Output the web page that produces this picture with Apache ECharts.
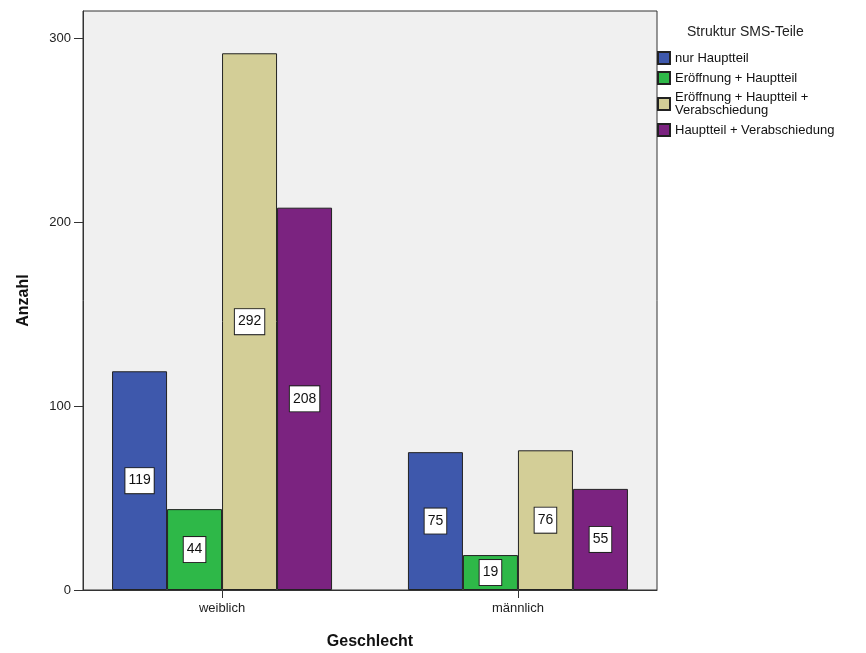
<!DOCTYPE html>
<html><head><meta charset="utf-8">
<script src="https://cdn.jsdelivr.net/npm/echarts@6/dist/echarts.min.js"></script>
<style>html,body{margin:0;padding:0;background:#fff}#c{width:866px;height:653px}</style>
</head><body><div id="c"></div>
<script>
const categories = ['weiblich', 'männlich'];
const seriesNames = ['nur Hauptteil', 'Eröffnung + Hauptteil', 'Eröffnung + Hauptteil +\nVerabschiedung', 'Hauptteil + Verabschiedung'];
const nurHauptteil = [119, 75];
const eroeffnungHauptteil = [44, 19];
const eroeffnungHauptteilVerabschiedung = [292, 76];
const hauptteilVerabschiedung = [208, 55];
const yTicks = [0, 100, 200, 300];
const colors = ['#3E58AC', '#2EB848', '#D3CE97', '#7B2380'];

const values = [nurHauptteil, eroeffnungHauptteil, eroeffnungHauptteilVerabschiedung, hauptteilVerabschiedung];
const font = 'Liberation Sans, Arial, sans-serif';

const chart = echarts.init(document.getElementById('c'), null, {renderer: 'canvas'});
chart.setOption({
  animation: false,
  textStyle: {fontFamily: font},
  title: {
    text: 'Struktur SMS-Teile', left: 682, top: 20,
    textStyle: {fontSize: 14, fontWeight: 'normal', color: '#222', fontFamily: font}
  },
  legend: {
    orient: 'vertical', left: 657, top: 51, padding: 0,
    itemWidth: 12, itemHeight: 12, itemGap: 6,
    icon: 'rect',
    textStyle: {fontSize: 13, color: '#111', lineHeight: 13, fontFamily: font, padding: [0, 0, 0, 0]},
    data: seriesNames
  },
  grid: {
    left: 83, top: 11, right: 209, bottom: 63,
    outerBoundsMode: 'none', containLabel: false,
    show: true, backgroundColor: '#F0F0F0', borderColor: '#333', borderWidth: 1
  },
  xAxis: {
    type: 'value', min: -0.47, max: 1.47,
    name: 'Geschlecht', nameLocation: 'middle', nameGap: 44,
    nameTextStyle: {fontSize: 16, fontWeight: 'bold', color: '#111', fontFamily: font},
    axisLine: {onZero: false, lineStyle: {color: '#333'}},
    axisTick: {show: true, customValues: [0, 1], length: 8, lineStyle: {color: '#333'}},
    axisLabel: {customValues: [0, 1], formatter: v => categories[Math.round(v)], fontSize: 13, color: '#222', margin: 12},
    splitLine: {show: false}
  },
  yAxis: {
    type: 'value', min: 0, max: 315,
    name: 'Anzahl', nameLocation: 'middle', nameGap: 51, nameRotate: 90,
    nameTextStyle: {fontSize: 16, fontWeight: 'bold', color: '#111', fontFamily: font},
    axisLine: {show: true, onZero: false, lineStyle: {color: '#333'}},
    axisTick: {show: true, customValues: yTicks, length: 9, lineStyle: {color: '#333'}},
    axisLabel: {customValues: yTicks, fontSize: 13, color: '#222', margin: 12},
    splitLine: {show: false}
  },
  series: seriesNames.map((name, i) => ({
    name: name, type: 'bar',
    data: values[i].map((v, j) => [j, v]),
    barWidth: 55, barGap: '0%',
    itemStyle: {color: colors[i], borderColor: '#222', borderWidth: 1},
    label: {
      show: true, position: 'inside', fontSize: 14, color: '#111',
      backgroundColor: '#fff', borderColor: '#222', borderWidth: 1,
      padding: [6, 3, 5, 3], fontFamily: font
    }
  }))
});
</script></body></html>
